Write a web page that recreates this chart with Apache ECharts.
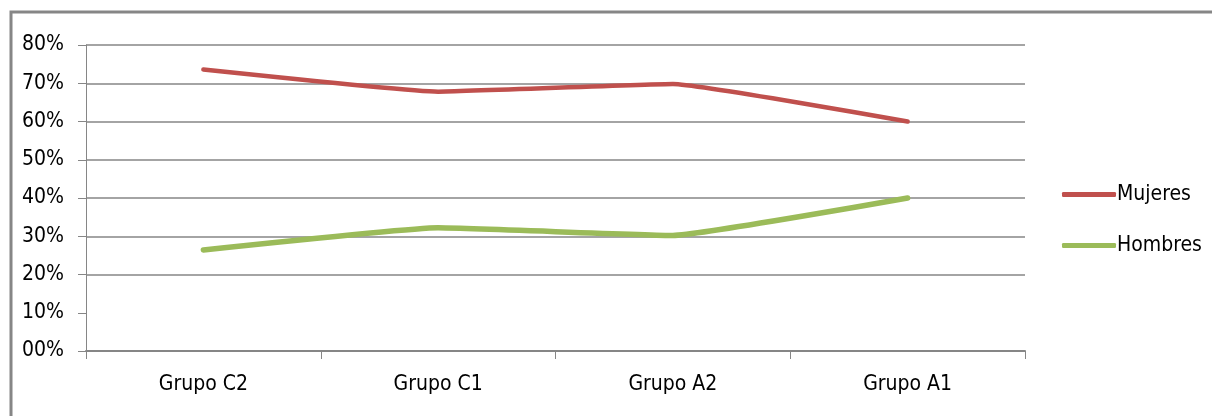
<!DOCTYPE html>
<html>
<head>
<meta charset="utf-8">
<script src="https://cdn.jsdelivr.net/npm/echarts@6/dist/echarts.min.js"></script>
<style>
html,body{margin:0;padding:0;background:#fff;}
#chart{width:1212px;height:416px;}
</style>
</head>
<body>
<div id="chart"></div>
<script>
const categories = ['Grupo C2', 'Grupo C1', 'Grupo A2', 'Grupo A1'];
const mujeres = [73.6, 67.8, 69.8, 60.0];
const hombres = [26.4, 32.2, 30.2, 40.0];
const seriesNames = ['Mujeres', 'Hombres'];

const FONT = '"Liberation Sans Narrow", "DejaVu Sans Condensed", "Liberation Sans", Arial, sans-serif';
const GRAY = '#868686';

const chart = echarts.init(document.getElementById('chart'), null, {renderer: 'canvas'});
chart.setOption({
  animation: false,
  backgroundColor: '#ffffff',
  textStyle: {fontFamily: FONT},
  graphic: [{
    type: 'rect',
    shape: {x: 11, y: 12, width: 1400, height: 600},
    style: {fill: 'none', stroke: GRAY, lineWidth: 3},
    silent: true
  }],
  grid: {left: 86, right: 187, top: 45, bottom: 65, containLabel: false},
  legend: {
    orient: 'vertical',
    left: 1062,
    top: 184,
    padding: 0,
    itemWidth: 54,
    itemHeight: 5,
    itemGap: 30,
    icon: 'roundRect',
    textStyle: {fontFamily: FONT, fontSize: 21, color: '#000', padding: [0,0,0,-4]},
    data: seriesNames
  },
  xAxis: {
    type: 'category',
    data: categories,
    boundaryGap: true,
    axisLine: {lineStyle: {color: GRAY, width: 2}},
    axisTick: {show: true, length: 8, lineStyle: {color: GRAY, width: 1}},
    axisLabel: {color: '#000', fontFamily: FONT, fontSize: 21, margin: 23}
  },
  yAxis: {
    type: 'value',
    min: 0,
    max: 80,
    interval: 10,
    axisLine: {show: true, lineStyle: {color: GRAY, width: 1}},
    axisTick: {show: true, length: 8, lineStyle: {color: GRAY}},
    axisLabel: {
      color: '#000', fontFamily: FONT, fontSize: 21, margin: 22,
      formatter: v => (v < 10 ? '0' + v : '' + v) + '%'
    },
    splitLine: {show: true, lineStyle: {color: [GRAY, 'rgba(0,0,0,0)', GRAY, GRAY, GRAY, GRAY, GRAY, GRAY, GRAY], width: 1.5}}
  },
  series: [
    {
      name: seriesNames[0], type: 'line', data: mujeres,
      symbol: 'none', smooth: 0.1,
      lineStyle: {color: '#C0504D', width: 4.5, join: 'round', cap: 'round'},
      itemStyle: {color: '#C0504D'}
    },
    {
      name: seriesNames[1], type: 'line', data: hombres,
      symbol: 'none', smooth: 0.1,
      lineStyle: {color: '#9BBB59', width: 5.5, join: 'round', cap: 'round'},
      itemStyle: {color: '#9BBB59'}
    }
  ]
});
</script>
</body>
</html>
